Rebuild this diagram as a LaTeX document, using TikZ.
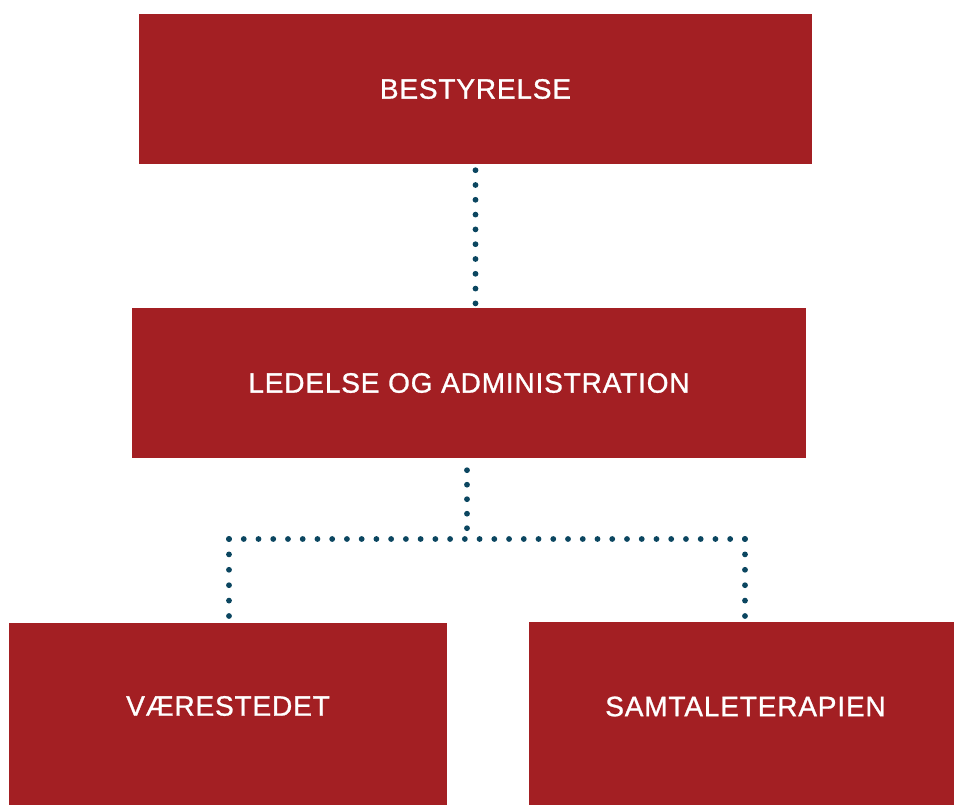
\documentclass[tikz,border=0pt]{standalone}
\usepackage{fontspec}
\setmainfont{Liberation Sans}[LetterSpace=3,FakeBold=1]
\usetikzlibrary{positioning}
\definecolor{boxred}{HTML}{A31F23}
\definecolor{dotblue}{HTML}{0B4660}

\begin{document}
\begin{tikzpicture}[x=1pt,y=-1pt,
    box/.style={rectangle,fill=boxred,text=white,inner sep=0pt,
        font=\fontsize{28}{30}\selectfont},
    dots/.style={dotblue,line width=5.8pt,line cap=round,
        dash pattern=on 0pt off #1},
    dots/.default=14.8pt]
    \useasboundingbox (0,0) rectangle (954,805);

    \node[box,minimum width=673pt,minimum height=150pt] (bestyrelse) at (475.5,89) {BESTYRELSE};
    \node[box,minimum width=674pt,minimum height=150pt] (ledelse) at (469,383) {LEDELSE OG ADMINISTRATION};
    \node[box,minimum width=438pt,minimum height=182pt,
        label={[box,yshift=8pt]center:VÆRESTEDET}] (vaer) at (228,714) {};
    \node[box,minimum width=425pt,minimum height=183pt,
        label={[box,xshift=4pt,yshift=7pt]center:SAMTALETERAPIEN}] (samtale) at (741.5,713.5) {};

    \coordinate (split) at (467,539);
    \coordinate (split_l) at (229,539);
    \coordinate (split_r) at (745,539);

    \draw[dots,shorten <=6pt] (bestyrelse.south) -- (bestyrelse.south |- ledelse.north);
    \draw[dots=14.5pt,shorten <=12pt] (ledelse.south -| split) -- (split);
    \draw[dots=14.74pt] (split_l) -- (split_r);
    \draw[dots=15.4pt] (split_l) -- (split_l |- vaer.north);
    \draw[dots=15.4pt] (split_r) -- (split_r |- samtale.north);
\end{tikzpicture}
\end{document}
